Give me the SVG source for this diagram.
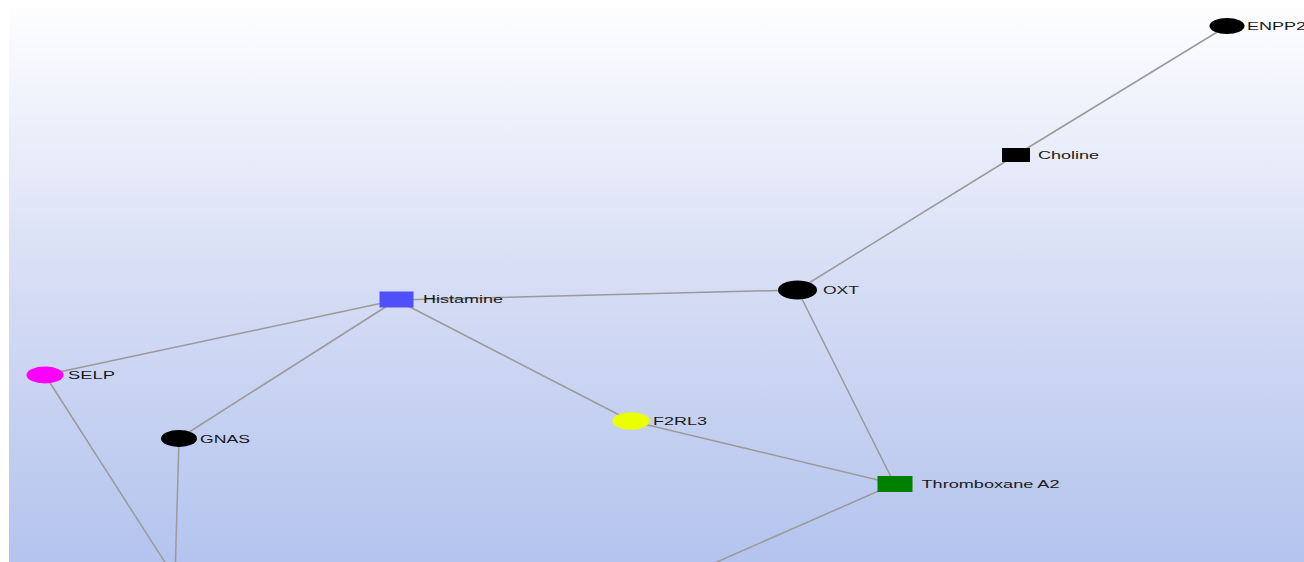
<svg xmlns="http://www.w3.org/2000/svg" width="1304" height="562" viewBox="0 0 1304 562">
<defs>
<linearGradient id="bg" x1="0" y1="0" x2="0" y2="1">
<stop offset="0" stop-color="#ffffff"/>
<stop offset="0.5" stop-color="#d6ddf5"/>
<stop offset="1" stop-color="#b4c4ee"/>
</linearGradient>
<style>
.e{stroke:#9a9a9a;stroke-width:1.5;fill:none}
.t{font-family:"Liberation Sans",Arial,sans-serif;font-size:10px;fill:#1a1a1a}
</style>
</defs>
<rect x="0" y="0" width="1304" height="562" fill="#ffffff"/>
<rect x="9" y="0" width="1295" height="562" fill="url(#bg)"/>
<g id="connectors">
<line class="e" x1="1227" y1="26" x2="1016" y2="155"/>
<line class="e" x1="1016" y1="155" x2="797.5" y2="290"/>
<line class="e" x1="797.5" y1="290" x2="396.5" y2="300"/>
<line class="e" x1="797.5" y1="290" x2="894.5" y2="484"/>
<line class="e" x1="396.5" y1="300" x2="45" y2="375"/>
<line class="e" x1="396.5" y1="300" x2="179" y2="438.5"/>
<line class="e" x1="396.5" y1="300" x2="631" y2="421"/>
<line class="e" x1="631" y1="421" x2="894.5" y2="484"/>
<line class="e" x1="894.5" y1="484" x2="694" y2="572"/>
<line class="e" x1="45" y1="375" x2="175" y2="578"/>
<line class="e" x1="179" y1="438.5" x2="175" y2="578"/>
</g>
<g id="ENPP2">
<ellipse cx="1227" cy="26" rx="17.5" ry="8" fill="#000000"/>
<text class="t" x="1247" y="30" textLength="59" lengthAdjust="spacingAndGlyphs">ENPP2</text>
</g>
<g id="Choline">
<rect x="1002" y="148" width="28" height="14" fill="#000000"/>
<text class="t" x="1038" y="158.5" textLength="61" lengthAdjust="spacingAndGlyphs">Choline</text>
</g>
<g id="OXT">
<ellipse cx="797.5" cy="290" rx="19.5" ry="9.5" fill="#000000"/>
<text class="t" x="823" y="293.5" textLength="36" lengthAdjust="spacingAndGlyphs">OXT</text>
</g>
<g id="Histamine">
<rect x="379.5" y="291.5" width="34" height="16" fill="#5050fa"/>
<text class="t" x="423" y="303" textLength="80" lengthAdjust="spacingAndGlyphs">Histamine</text>
</g>
<g id="SELP">
<ellipse cx="45" cy="375" rx="18.5" ry="8.5" fill="#ff00ff"/>
<text class="t" x="68" y="378.5" textLength="47" lengthAdjust="spacingAndGlyphs">SELP</text>
</g>
<g id="GNAS">
<ellipse cx="179" cy="438.5" rx="18" ry="8.5" fill="#000000"/>
<text class="t" x="200" y="442.5" textLength="50" lengthAdjust="spacingAndGlyphs">GNAS</text>
</g>
<g id="F2RL3">
<ellipse cx="631" cy="421" rx="18.5" ry="8.7" fill="#eaff00"/>
<text class="t" x="653" y="425" textLength="54" lengthAdjust="spacingAndGlyphs">F2RL3</text>
</g>
<g id="ThromboxaneA2">
<rect x="877.5" y="476" width="35" height="16" fill="#008000"/>
<text class="t" x="921.5" y="487.5" textLength="138" lengthAdjust="spacingAndGlyphs">Thromboxane A2</text>
</g>
</svg>
